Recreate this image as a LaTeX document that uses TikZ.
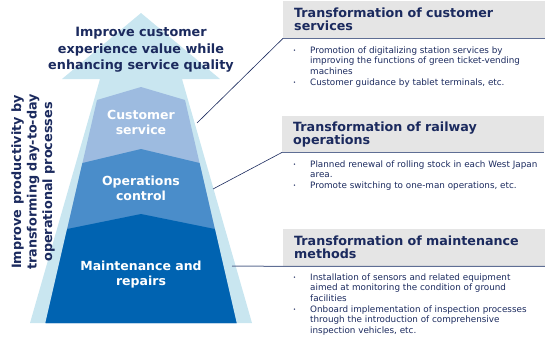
\documentclass[tikz,border=0pt]{standalone}
\usepackage{fontspec}
\setmainfont{DejaVu Sans}
\usetikzlibrary{positioning}

\definecolor{navy}{RGB}{27,42,94}
\definecolor{arrowcol}{RGB}{201,230,240}
\definecolor{topcol}{RGB}{157,187,224}
\definecolor{midcol}{RGB}{74,141,202}
\definecolor{botcol}{RGB}{0,99,177}
\definecolor{headgray}{RGB}{229,229,229}
\definecolor{rulecol}{RGB}{95,110,148}

\tikzset{
  header/.style={anchor=north west, fill=headgray, minimum width=262bp, text width=240bp,
    inner xsep=11bp, inner ysep=0bp, align=left, text=navy,
    font=\fontsize{12.7bp}{13bp}\selectfont\bfseries},
  bullets/.style={inner sep=0bp, text=navy, font=\fontsize{8.8bp}{10.7bp}\selectfont},
  layer/.style={text=white, align=center, font=\fontsize{12.5bp}{15bp}\selectfont\bfseries},
  goal/.style={text=navy, align=center, font=\fontsize{12.8bp}{16.5bp}\selectfont\bfseries},
  link/.style={draw=navy, line width=0.6bp},
  rule/.style={draw=rulecol, line width=1.2bp}
}
\newcommand{\blist}[1]{\begin{tabular}{@{}p{17bp}@{}l@{}}#1\end{tabular}}
\newcommand{\bmark}{\raisebox{0.5bp}{\fontsize{5bp}{5bp}\selectfont\textbullet}}

\begin{document}
\begin{tikzpicture}[>=latex,line join=miter]
\useasboundingbox (0,0) rectangle (545bp,-337bp);
%%
  % Shape: outer arrow
  \fill[arrowcol] (141bp,-13bp) -- (220bp,-79bp) -- (182bp,-79bp) -- (252bp,-323bp)
    -- (30bp,-323bp) -- (100bp,-79bp) -- (62bp,-79bp) -- cycle;
  % Shape: layers, top one first
  \fill[topcol] (141bp,-87bp) -- (185bp,-100bp) -- (236.5bp,-323bp)
    -- (45.5bp,-323bp) -- (97bp,-100bp) -- cycle;
  \fill[midcol] (141bp,-149bp) -- (199.6bp,-163bp) -- (236.5bp,-323bp)
    -- (45.5bp,-323bp) -- (82.4bp,-163bp) -- cycle;
  \fill[botcol] (141bp,-214bp) -- (214.8bp,-229bp) -- (236.5bp,-323bp)
    -- (45.5bp,-323bp) -- (67.2bp,-229bp) -- cycle;
  % Node: texts on the arrow
  \node[goal] (goal) at (141bp,-50bp) {Improve customer\\experience value while\\enhancing service quality};
  \node[layer] (cust) at (141bp,-122bp) {Customer\\service};
  \node[layer] (ops) at (141bp,-188bp) {Operations\\control};
  \node[layer] (maint) at (141bp,-275bp) {Maintenance and\\repairs};
  \node[goal, rotate=90, font=\fontsize{12.8bp}{15.5bp}\selectfont\bfseries] (prod) at (33bp,-182bp)
    {Improve productivity by\\transforming day-to-day\\operational processes};
  % Node: link points on the arrow
  \coordinate (c1) at (197bp,-123bp);
  \coordinate (c2) at (213bp,-189bp);
  \coordinate (c3) at (232bp,-266bp);
%%
  % Node: customer services
  \node[header, minimum height=37bp] (hcust) at (283bp,-1bp) {Transformation of customer\\services};
  \node[bullets, below right=7bp and 10bp of hcust.south west, anchor=north west] (bcust) {\blist{
    \bmark & Promotion of digitalizing station services by\\
     & improving the functions of green ticket-vending\\
     & machines\\
    \bmark & Customer guidance by tablet terminals, etc.}};
  % Node: railway operations
  \node[header, minimum height=36bp] (hops) at (282bp,-116bp) {Transformation of railway\\operations};
  \node[bullets, below right=7bp and 11bp of hops.south west, anchor=north west] (bops) {\blist{
    \bmark & Planned renewal of rolling stock in each West Japan\\
     & area.\\
    \bmark & Promote switching to one-man operations, etc.}};
  % Node: maintenance methods
  \node[header, minimum height=37bp] (hmaint) at (283bp,-229bp) {Transformation of maintenance\\methods};
  \node[bullets, below right=6bp and 10bp of hmaint.south west, anchor=north west] (bmaint) {\blist{
    \bmark & Installation of sensors and related equipment\\
     & aimed at monitoring the condition of ground\\
     & facilities\\
    \bmark & Onboard implementation of inspection processes\\
     & through the introduction of comprehensive\\
     & inspection vehicles, etc.}};
%%
  % Edge: arrow -- headers
  \draw[rule] (hcust.south west) -- (hcust.south east);
  \draw[rule] (hops.south west) -- (hops.south east);
  \draw[link] (c1) -- (hcust.south west);
  \draw[link] (c2) -- (hops.south west);
  \draw[rule, line width=1bp] (c3) -- (hmaint.south west) -- (hmaint.south east);
%
\end{tikzpicture}
\end{document}
